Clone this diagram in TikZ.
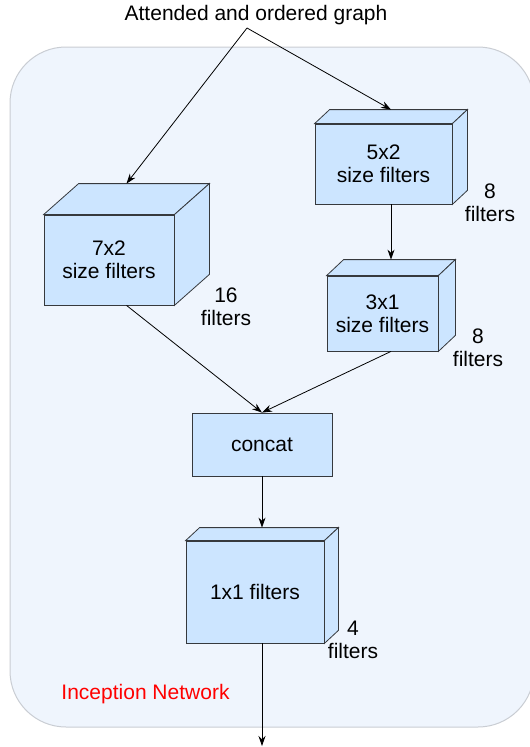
\documentclass[tikz,border=0pt]{standalone}
\usepackage{fontspec}
\setmainfont{Liberation Sans}
\usetikzlibrary{arrows.meta}
\definecolor{boxfill}{HTML}{CCE5FF}
\definecolor{boxline}{HTML}{36393D}
\definecolor{netfill}{HTML}{EFF5FD}
\definecolor{netline}{HTML}{C9CDD3}
\tikzset{
    face/.style={draw=boxline,fill=boxfill,line width=0.8pt},
    layer/.style={face,inner sep=0pt,align=center},
    note/.style={align=center}
}
% top and side of a cube whose front face is node #1, depth (#2,#3)
\newcommand{\cubefaces}[3]{%
    \filldraw[face] (#1.north west) -- ([xshift=#2,yshift=#3]#1.north west)
        -- ([xshift=#2,yshift=#3]#1.north east) -- (#1.north east) -- cycle;
    \filldraw[face] (#1.north east) -- ([xshift=#2,yshift=#3]#1.north east)
        -- ([xshift=#2,yshift=#3]#1.south east) -- (#1.south east) -- cycle;
    \coordinate (#1-top) at ([xshift=#2/2,yshift=#3]#1.north);
    \coordinate (#1-bot) at ([xshift=#2/2]#1.south);
}
\begin{document}
\begin{tikzpicture}[x=1pt,y=-1pt,>={Stealth[length=10pt,width=7pt]},
    font=\fontsize{21}{23}\selectfont]
    \useasboundingbox (0,0) rectangle (530,747);
    \clip (0,0) rectangle (530,747);
    % network frame
    \draw[netline,fill=netfill,line width=1pt,rounded corners=56pt]
        (10,47) rectangle (534,727);
    \node[text=red] (net) at (145.5,694) {Inception Network};

    \node (title) at (256,15) {Attended and ordered graph};
    \coordinate (split) at (247,28);

    % filter blocks
    \node[layer,minimum width=130pt,minimum height=90pt] (f7) at (109,260)
        {7x2\\size filters};
    \cubefaces{f7}{35pt}{31pt}
    \node[layer,minimum width=137pt,minimum height=80pt] (f5) at (383.5,164)
        {5x2\\size filters};
    \cubefaces{f5}{15pt}{14pt}
    \node[layer,minimum width=111pt,minimum height=75pt] (f3) at (382.5,313.5)
        {3x1\\size filters};
    \cubefaces{f3}{17pt}{16pt}
    \node[layer,minimum width=140pt,minimum height=63pt] (concat) at (262,444.5)
        {concat};
    \node[layer,minimum width=138pt,minimum height=102pt] (f1) at (255,592)
        {1x1 filters};
    \cubefaces{f1}{14pt}{13pt}
    \coordinate (out) at (262,746);

    % filter counts
    \node[note] at (226,307) {16\\filters};
    \node[note] at (490,203) {8\\filters};
    \node[note] at (478,348) {8\\filters};
    \node[note] at (353,640) {4\\filters};

    % connectors
    \draw[->,line width=0.8pt] (split) -- (f7-top);
    \draw[->,line width=0.8pt] (split) -- (f5-top);
    \draw[->,line width=0.8pt] (f5-bot) -- (f3-top);
    \draw[->,line width=0.8pt] (f7-bot) -- (concat.north);
    \draw[->,line width=0.8pt] (f3-bot) -- (concat.north);
    \draw[->,line width=0.8pt] (concat.south) -- (f1-top);
    \draw[->,line width=0.8pt] (f1-bot) -- (out);
\end{tikzpicture}
\end{document}
